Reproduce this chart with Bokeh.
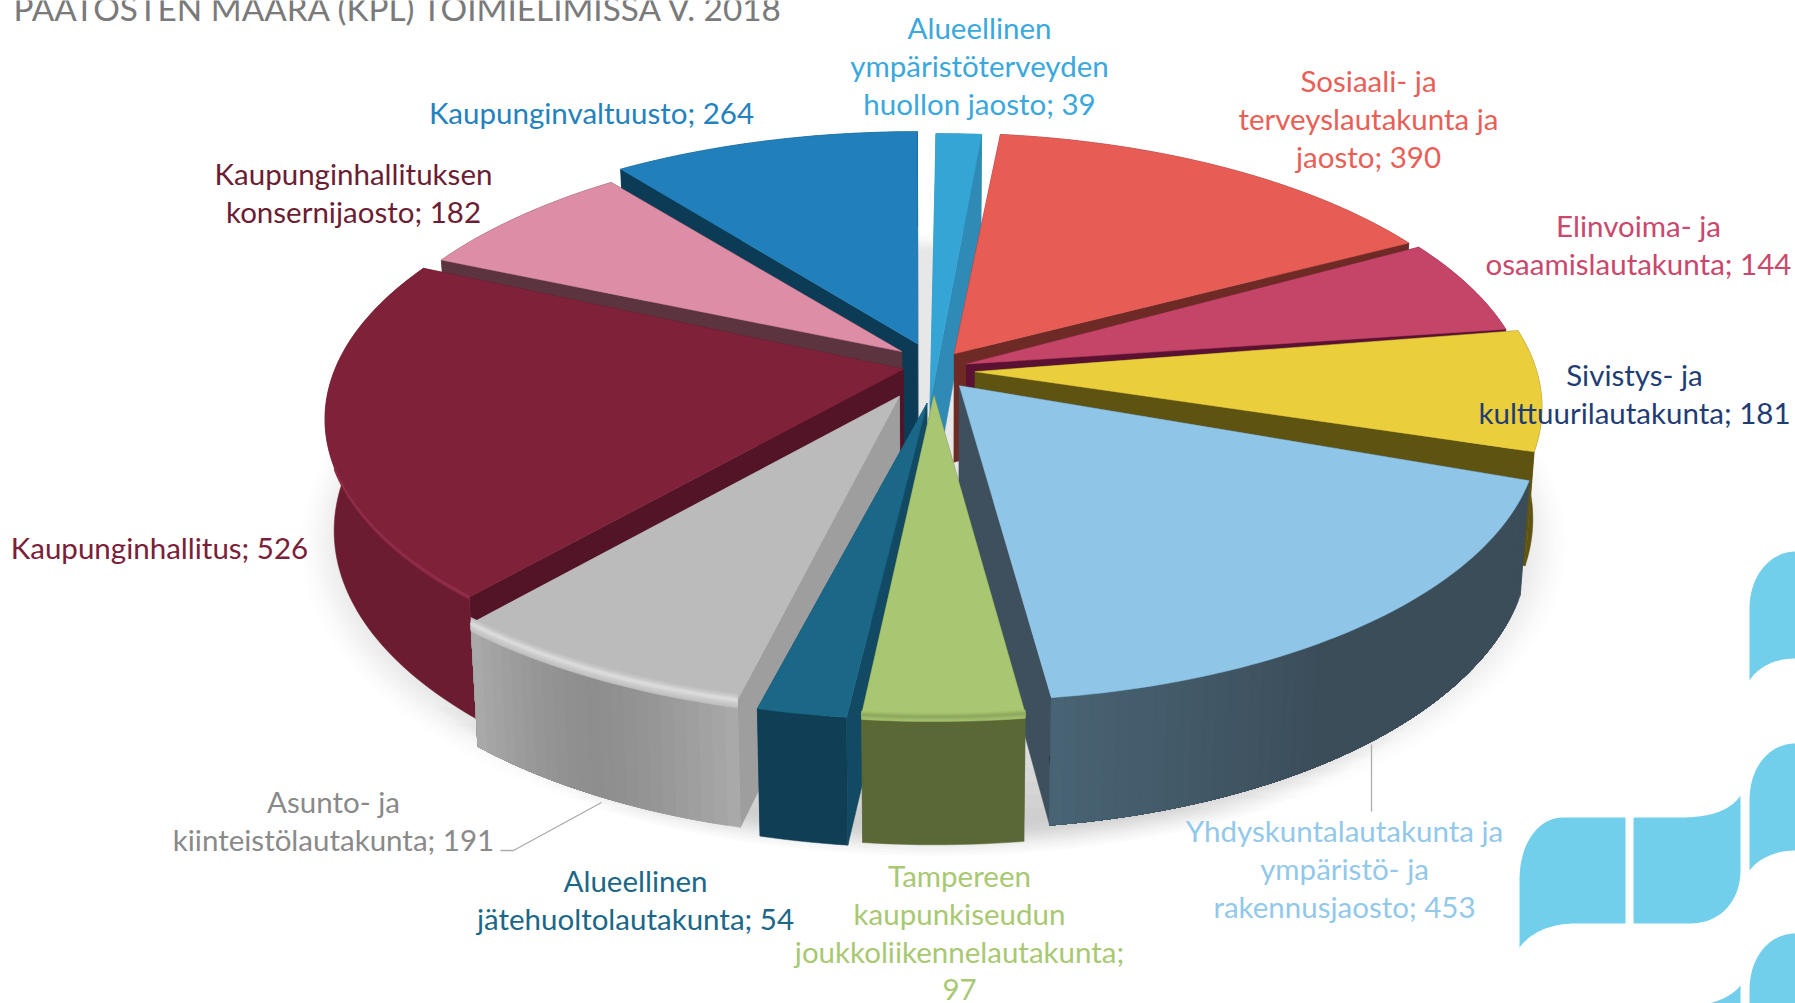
import numpy as np
from bokeh.plotting import figure
from bokeh.models import Range1d, ColumnDataSource
from bokeh.core.properties import value
from bokeh.embed import file_html
from bokeh.resources import INLINE

# ---------- data ----------
categories = ["Alueellinen ympäristöterveyden huollon jaosto", "Sosiaali- ja terveyslautakunta ja jaosto",
              "Elinvoima- ja osaamislautakunta", "Sivistys- ja kulttuurilautakunta",
              "Yhdyskuntalautakunta ja ympäristö- ja rakennusjaosto",
              "Tampereen kaupunkiseudun joukkoliikennelautakunta", "Alueellinen jätehuoltolautakunta",
              "Asunto- ja kiinteistölautakunta", "Kaupunginhallitus", "Kaupunginhallituksen konsernijaosto",
              "Kaupunginvaltuusto"]
values = [39, 390, 144, 181, 453, 97, 54, 191, 526, 182, 264]
label_lines = [["Alueellinen", "ympäristöterveyden", "huollon jaosto; 39"],
               ["Sosiaali- ja", "terveyslautakunta ja", "jaosto; 390"],
               ["Elinvoima- ja", "osaamislautakunta; 144"],
               ["Sivistys- ja", "kulttuurilautakunta; 181"],
               ["Yhdyskuntalautakunta ja", "ympäristö- ja", "rakennusjaosto; 453"],
               ["Tampereen", "kaupunkiseudun", "joukkoliikennelautakunta;", "97"],
               ["Alueellinen", "jätehuoltolautakunta; 54"],
               ["Asunto- ja", "kiinteistölautakunta; 191"],
               ["Kaupunginhallitus; 526"],
               ["Kaupunginhallituksen", "konsernijaosto; 182"],
               ["Kaupunginvaltuusto; 264"]]
title = "PÄÄTÖSTEN MÄÄRÄ (KPL) TOIMIELIMISSÄ V. 2018"

# ---------- styles ----------
top_colors = ["#35A5D6", "#E75D56", "#C54568", "#EBCE3C", "#8FC5E6", "#A9C672", "#1B6788", "#BBBBBB", "#7F2239", "#DD8DA5", "#2180BC"]
radial_colors = ["#2F8BB5", "#6E2B25", "#5B1232", "#5E5310", "#3E505D", "#5C6B3A", "#124A63", "#9E9E9E", "#541427", "#5B343F", "#0C3B55"]
wall_colors = ["#2F8BB5", "#6E2B25", "#5B1232", "#5E5310", "#3C4D5A", "#5A6836", "#103F55", "#8E8E8E", "#6B1C30", "#5B343F", "#0C3B55"]
bevels = [None, None, None, None, None, "#8FA95F", None, "#DADADA", "#93304B", None, None]
bevel_size = [0, 0, 0, 0, 0, 0.6, 0, 1.0, 0.35, 0, 0]
bevel_cos = [0, 0, 0, 0, 0, -0.05, 0, -0.05, -0.3, 0, 0]
label_colors = ["#3AA8DC", "#E95F58", "#C9486C", "#1F3D74", "#92C8E9", "#A8C872", "#1B6788", "#8A8A8A", "#7A2038", "#6B1D33", "#2381BE"]
explode = [0.02, 0.05, 0.05, 0.05, 0.07, 0.06, 0.06, 0.07, 0.05, 0.05, 0.07]
radius_scale = [1, 1, 1, 1, 0.985, 1, 1, 1, 1, 1, 1]
trim_deg = [(0, 0.4), (1.5, 0.5), (0, 0), (0, 0), (0.8, 0), (0, 0), (0, 0), (0, 0), (1.5, 0), (0, 0), (2.5, 0)]
rim_nudge = [(2, -8), (-10, -4), (-16, -8), (-7, -12), (-3, -1), (1, 7), (-6, 10), (-10, 0), (7, -2), (16, 0), (-4, 0)]
apex_nudge = [(-4, 30), (4, -13), (4, -10), (11, -8), (-2, -8), (0, 0), (0, 8), (-14, 0), (0, -12), (-8, -18), (-2, -16)]
label_cx = [979, 1368, 1638, 1634, 1344, 959, 635, 333, 159, 353, 591]
label_cy = [65, 118, 244, 393, 868, 932, 899, 820, 547, 192, 112]

# ---------- projection ----------
W, H = 1795, 1003
CX, CY, RX, RY, K, R, DEPTH, SHRINK = 933, 378, 615, 282, 0.1487, 0.94, 109, 0.985


def proj(u, v):
    w = 1 + K * v
    return CX + RX * u / w, CY - RY * v / w


def lower(x, y, v):
    w = 1 + K * v
    return CX + (x - CX) * SHRINK, y + DEPTH / w


def mix(a, b, t):
    ca = [int(a[i:i + 2], 16) for i in (1, 3, 5)]
    cb = [int(b[i:i + 2], 16) for i in (1, 3, 5)]
    return "#%02X%02X%02X" % tuple(int(round(x + (y - x) * t)) for x, y in zip(ca, cb))


def wall_shade(i, f):
    # f runs 0..1 from the slice's start angle to its end angle
    if i == 7:   # grey slice: lighter towards both ends
        return mix("#8E8E8E", "#ABABAB", min(1, abs(f - 0.5) ** 1.5 * 2.8))
    if i == 4:   # slate slice: lighter at its left end
        return mix("#3C4D5A", "#486474", max(0, (f - 0.6) / 0.4))
    return wall_colors[i]


polys = []


def add(xs, ys, color):
    polys.append((list(map(float, xs)), list(map(float, ys)), color))


total = sum(values)
edges = np.cumsum([0] + values) / total * 2 * np.pi
order = sorted(range(len(values)), key=lambda i: -np.cos((edges[i] + edges[i + 1]) / 2))

for i in order:
    t0 = edges[i] + np.radians(trim_deg[i][0])
    t1 = edges[i + 1] - np.radians(trim_deg[i][1])
    m = (edges[i] + edges[i + 1]) / 2
    e = explode[i]
    n = max(8, int((t1 - t0) * 50))
    th = np.linspace(t0, t1, n + 1)
    rr = R * radius_scale[i]
    u = rr * np.sin(th) + e * np.sin(m)
    v = rr * np.cos(th) + e * np.cos(m)
    x, y = proj(u, v)
    x = x + rim_nudge[i][0]
    y = y + rim_nudge[i][1]
    bx, by = lower(x, y, v)
    ax, ay = proj(e * np.sin(m), e * np.cos(m))
    ax += apex_nudge[i][0]
    ay += apex_nudge[i][1]
    abx, aby = lower(ax, ay, e * np.cos(m))
    # radial walls
    add([ax, x[0], bx[0], abx], [ay, y[0], by[0], aby], radial_colors[i])
    add([ax, x[-1], bx[-1], abx], [ay, y[-1], by[-1], aby], radial_colors[i])
    # outer wall: each shade repaints the whole rest of the arc, so no seams show
    if i in (4, 7):
        for j in range(n):
            add(np.r_[x[j:], bx[j:][::-1]], np.r_[y[j:], by[j:][::-1]], wall_shade(i, (j + 0.5) / n))
    else:
        add(np.r_[x, bx[::-1]], np.r_[y, by[::-1]], wall_colors[i])
    # top
    add(np.r_[ax, x], np.r_[ay, y], top_colors[i])
    # bevel along the front rim
    if bevels[i]:
        mask = np.cos(th) < bevel_cos[i]
        if mask.sum() > 1:
            s = bevel_size[i]
            for off, frac in ((10, 0.2), (7, 0.45), (4, 0.7), (2, 1.0)):
                add(np.r_[x[mask], x[mask][::-1]], np.r_[y[mask] - s * off * 0.6, y[mask][::-1] + s * off * 0.8],
                    mix(top_colors[i], bevels[i], frac))

p = figure(width=W, height=H, x_range=Range1d(0, W), y_range=Range1d(H, 0),
           x_axis_type=None, y_axis_type=None, toolbar_location=None, output_backend="svg",
           min_border=0, outline_line_color=None, background_fill_color="white", border_fill_color="white")
p.grid.visible = False


# ---------- background ornament ----------
def bez(p0, p1, p2, p3, n=24):
    t = np.linspace(0, 1, n)[:, None]
    a, b, c, d = map(np.array, (p0, p1, p2, p3))
    return (1 - t) ** 3 * a + 3 * (1 - t) ** 2 * t * b + 3 * (1 - t) * t ** 2 * c + t ** 3 * d


orn = [
    np.vstack([[(1519, 947)], [(1519, 880)], bez((1519, 880), (1519, 840), (1540, 817), (1562, 817)), [(1625, 817)], [(1625, 923)], [(1575, 923)], bez((1575, 923), (1550, 923), (1530, 932), (1519, 947))]),
    np.vstack([[(1633, 817)], [(1680, 817)], bez((1680, 817), (1710, 817), (1730, 810), (1740, 795)), [(1740, 870)], bez((1740, 870), (1740, 900), (1720, 923), (1690, 923)), [(1633, 923)]]),
    np.vstack([[(1749, 870)], [(1749, 800)], bez((1749, 800), (1749, 765), (1770, 743), (1795, 743)), [(1803, 743)], [(1803, 848)], [(1795, 850)], bez((1795, 850), (1775, 850), (1758, 858), (1749, 870))]),
    np.vstack([[(1749, 680)], [(1749, 608)], bez((1749, 608), (1749, 575), (1770, 551), (1795, 551)), [(1803, 551)], [(1803, 656)], [(1795, 658)], bez((1795, 658), (1775, 658), (1758, 666), (1749, 680))]),
    np.vstack([[(1749, 1010)], [(1749, 990)], bez((1749, 990), (1749, 955), (1770, 933), (1795, 933)), [(1803, 933)], [(1803, 1010)]]),
    np.vstack([[(1708, 1010)], bez((1708, 1003), (1720, 1000), (1732, 995), (1740, 985)), [(1740, 1010)]]),
]
p.patches([list(o[:, 0]) for o in orn], [list(o[:, 1]) for o in orn], fill_color="#72CFEB", line_color=None)

# ---------- soft shadow: a light all-round one, and a stronger one along the front ----------
th = np.linspace(0, 2 * np.pi, 181)
for grow, a in zip(np.linspace(1.02, 0.95, 14), [0.005] * 4 + [0.007] * 4 + [0.009] * 6):
    u, v = grow * np.sin(th), grow * np.cos(th)
    sx, sy = proj(u, v)
    sy = sy + DEPTH / (1 + K * v) + 10
    p.patch(list(sx), list(sy), fill_color="#000000", fill_alpha=a, line_color=None)
for k, grow in enumerate(np.linspace(1.02, 0.97, 8)):
    front = np.radians(np.linspace(152 - k * 3, 208 + k * 3, 60))
    u, v = grow * np.sin(front), grow * np.cos(front)
    sx, sy = proj(u, v)
    sy = sy + DEPTH / (1 + K * v) + 10
    p.patch(list(sx), list(sy), fill_color="#000000", fill_alpha=0.013, line_color=None)

# ---------- pie ----------
src = ColumnDataSource(dict(xs=[q[0] for q in polys], ys=[q[1] for q in polys], c=[q[2] for q in polys]))
p.patches("xs", "ys", source=src, fill_color="c", line_color="c", line_width=0.5)

# ---------- leader lines ----------
p.line([601, 513, 500], [802, 850, 850], line_color="#ABABAB", line_width=1.3)
p.line([1371, 1371], [744, 811], line_color="#ABABAB", line_width=1.3)

# ---------- labels ----------
LINE = 38
lx, ly, lt, lc = [], [], [], []
for i, lines in enumerate(label_lines):
    y0 = label_cy[i] - (len(lines) - 1) * LINE / 2
    for j, s in enumerate(lines):
        lx.append(label_cx[i])
        ly.append(y0 + j * LINE)
        lt.append(s)
        lc.append(label_colors[i])
p.text(lx, ly, text=lt, text_color=lc, text_align="center", text_baseline="middle",
       text_font=value("Lato"), text_font_size="29.5px")
p.text([13], [7], text=[title], text_color="#7A7A7A", text_align="left", text_baseline="alphabetic",
       text_font=value("Lato"), text_font_size="33.3px")

open("out.html", "w").write(file_html(p, INLINE))
